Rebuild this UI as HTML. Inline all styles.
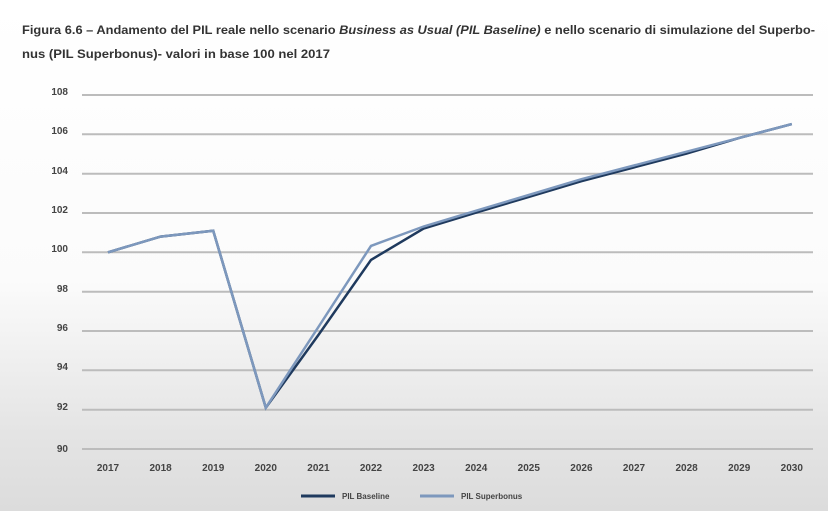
<!DOCTYPE html>
<html><head><meta charset="utf-8"><style>
html,body{margin:0;padding:0;}
body{width:828px;height:511px;overflow:hidden;background:linear-gradient(to bottom,#ffffff 0%,#fbfbfb 55%,#e4e4e4 85%,#dcdcdc 100%);font-family:"Liberation Sans",sans-serif;}
</style></head><body>
<svg width="828" height="511" xmlns="http://www.w3.org/2000/svg" style="position:absolute;left:0;top:0">
<g font-family="Liberation Sans, sans-serif" font-weight="bold" fill="#333" font-size="12">
<text x="22" y="34" textLength="793" lengthAdjust="spacingAndGlyphs">Figura 6.6 – Andamento del PIL reale nello scenario <tspan font-style="italic">Business as Usual (PIL Baseline)</tspan> e nello scenario di simulazione del Superbo-</text>
<text x="22" y="58" textLength="308" lengthAdjust="spacingAndGlyphs">nus (PIL Superbonus)- valori in base 100 nel 2017</text>
</g>
<g stroke="#bcbcbc" stroke-width="2">
<line x1="82" x2="813" y1="95" y2="95"/><line x1="82" x2="813" y1="134.3" y2="134.3"/>
<line x1="82" x2="813" y1="173.7" y2="173.7"/><line x1="82" x2="813" y1="213" y2="213"/>
<line x1="82" x2="813" y1="252.3" y2="252.3"/><line x1="82" x2="813" y1="291.7" y2="291.7"/>
<line x1="82" x2="813" y1="331" y2="331"/><line x1="82" x2="813" y1="370.3" y2="370.3"/>
<line x1="82" x2="813" y1="409.7" y2="409.7"/><line x1="82" x2="813" y1="449" y2="449"/>
</g>
<g font-family="Liberation Sans, sans-serif" font-weight="bold" fill="#444" font-size="10" text-anchor="end">
<text x="68" y="95">108</text><text x="68" y="134">106</text><text x="68" y="174">104</text>
<text x="68" y="213">102</text><text x="68" y="252">100</text><text x="68" y="292">98</text>
<text x="68" y="331">96</text><text x="68" y="370">94</text><text x="68" y="410">92</text><text x="68" y="452">90</text>
</g>
<g font-family="Liberation Sans, sans-serif" font-weight="bold" fill="#444" font-size="10" text-anchor="middle">
<text x="108" y="471">2017</text><text x="160.6" y="471">2018</text><text x="213.2" y="471">2019</text>
<text x="265.8" y="471">2020</text><text x="318.4" y="471">2021</text><text x="371" y="471">2022</text>
<text x="423.6" y="471">2023</text><text x="476.2" y="471">2024</text><text x="528.8" y="471">2025</text>
<text x="581.4" y="471">2026</text><text x="634" y="471">2027</text><text x="686.6" y="471">2028</text>
<text x="739.2" y="471">2029</text><text x="791.8" y="471">2030</text>
</g>
<polyline fill="none" stroke="#1f3a5e" stroke-width="2.5" points="108,252.3 160.6,236.6 213.2,230.7 265.8,407.7 318.4,335 371,259.9 423.6,228.5 476.2,212.6 528.8,196.9 581.4,181.2 634,167.4 686.6,153.6 739.2,137.9 791.8,124.1"/>
<polyline fill="none" stroke="#7d98bd" stroke-width="2.5" points="108,252.3 160.6,236.6 213.2,230.7 265.8,407.7 318.4,327 371,245.9 423.6,226.5 476.2,210.7 528.8,195 581.4,179.2 634,165.5 686.6,151.7 739.2,137.9 791.8,124.1"/>
<line x1="301" x2="335" y1="496" y2="496" stroke="#1f3a5e" stroke-width="3"/>
<line x1="420" x2="454" y1="496" y2="496" stroke="#7d98bd" stroke-width="3"/>
<g font-family="Liberation Sans, sans-serif" font-weight="bold" fill="#444" font-size="8">
<text x="342" y="499">PIL Baseline</text><text x="461" y="499">PIL Superbonus</text>
</g>
</svg>
</body></html>
